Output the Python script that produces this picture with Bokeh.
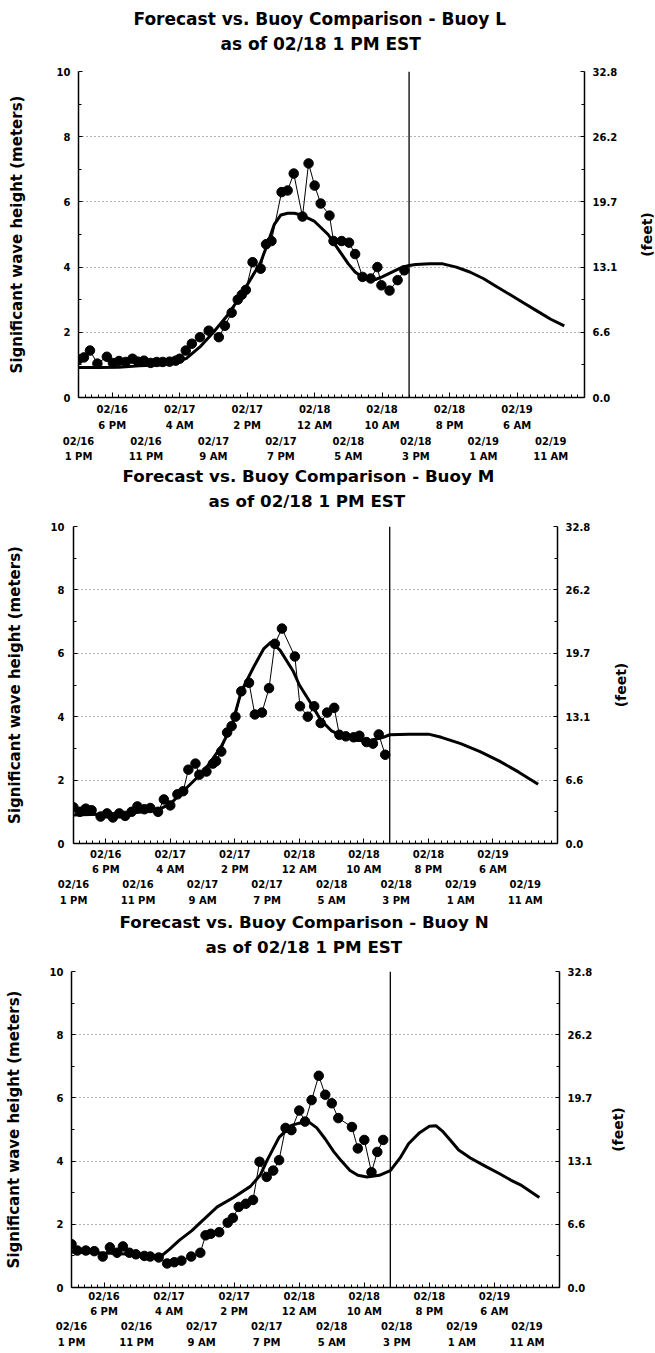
from bokeh.plotting import figure
from bokeh.models import FixedTicker, LinearAxis, Span, Title, Range1d, Grid
from bokeh.layouts import column, row
from bokeh.embed import file_html
from bokeh.resources import INLINE

# ---------------- data (x = hours since 02/16 1 PM EST) ----------------
x_end = 75
now_hour = 49

title_line2 = "as of 02/18 1 PM EST"
y_title = "Significant wave height (meters)"
y2_title = "(feet)"

row1_ticks = [5, 15, 25, 35, 45, 55, 65]
row1_dates = ["02/16", "02/17", "02/17", "02/18", "02/18", "02/18", "02/19"]
row1_times = ["6 PM", "4 AM", "2 PM", "12 AM", "10 AM", "8 PM", "6 AM"]
row2_ticks = [0, 10, 20, 30, 40, 50, 60, 70]
row2_dates = ["02/16", "02/16", "02/17", "02/17", "02/18", "02/18", "02/19", "02/19"]
row2_times = ["1 PM", "11 PM", "9 AM", "7 PM", "5 AM", "3 PM", "1 AM", "11 AM"]

m_ticks = [0, 2, 4, 6, 8, 10]
m_minor = [1, 3, 5, 7, 9]
m_labels = ["0", "2", "4", "6", "8", "10"]
ft_labels = ["0.0", "6.6", "13.1", "19.7", "26.2", "32.8"]

# Buoy L
L_obs_h = [0, 0.8, 1.7, 2.8, 4.2, 5.1, 6.0, 7.0, 8.0, 8.8, 9.7, 10.7, 11.6, 12.5, 13.5, 14.4, 15.0,
           15.9, 16.8, 18.0, 19.3, 20.8, 21.7, 22.7, 23.6, 24.2, 24.8, 25.8, 27.0, 27.8, 28.6,
           30.1, 31.0, 31.9, 33.2, 34.1, 35.0, 35.9, 37.2, 37.8, 39.0, 40.1, 41.0, 42.1, 43.3,
           44.3, 44.9, 46.1, 47.3, 48.3]
L_obs_m = [1.17, 1.23, 1.44, 1.04, 1.25, 1.06, 1.12, 1.09, 1.19, 1.10, 1.13, 1.06, 1.09, 1.09, 1.10, 1.13, 1.19,
           1.44, 1.65, 1.85, 2.05, 1.85, 2.20, 2.60, 3.00, 3.15, 3.30, 4.15, 3.95, 4.70, 4.80,
           6.30, 6.35, 6.87, 5.55, 7.18, 6.50, 5.95, 5.58, 4.80, 4.80, 4.75, 4.40, 3.70, 3.65,
           4.00, 3.44, 3.28, 3.60, 3.90]
L_fc_h = [0, 3, 6, 9, 12, 14, 16, 18, 20, 22, 24, 25, 26, 27, 28, 29, 30, 31, 32, 33, 34, 35, 36, 37, 38,
          39, 40, 41, 42, 43, 44, 45, 46, 47, 48, 49, 50, 52, 54, 56, 58, 60, 62, 64, 66, 68, 70, 72]
L_fc_m = [0.92, 0.92, 0.93, 0.97, 1.00, 1.05, 1.20, 1.55, 2.00, 2.50, 3.10, 3.45, 3.80, 4.15, 4.70, 5.30,
          5.60, 5.65, 5.65, 5.60, 5.50, 5.40, 5.20, 5.00, 4.70, 4.40, 4.10, 3.85, 3.70, 3.62, 3.62, 3.70,
          3.80, 3.90, 4.00, 4.05, 4.08, 4.10, 4.10, 4.00, 3.85, 3.65, 3.40, 3.15, 2.90, 2.65, 2.40, 2.20]

# Buoy M
M_obs_h = [0, 1.0, 1.9, 2.8, 4.2, 5.2, 6.1, 7.1, 8.0, 9.0, 9.9, 11.0, 11.9, 13.1, 14.0, 15.0, 16.1,
           17.0, 17.8, 18.9, 19.5, 20.6, 21.6, 22.1, 22.9, 23.8, 24.5, 25.1, 26.0, 27.2, 28.1, 29.2,
           30.3, 31.2, 32.3, 34.3, 35.1, 36.3, 37.3, 38.3, 39.3, 40.4, 41.2, 42.2, 43.4, 44.3, 45.4,
           46.4, 47.3, 48.3]
M_obs_m = [1.14, 1.00, 1.10, 1.05, 0.85, 0.95, 0.82, 0.95, 0.87, 1.00, 1.17, 1.08, 1.12, 1.00, 1.39, 1.20, 1.55,
           1.65, 2.33, 2.52, 2.17, 2.27, 2.52, 2.60, 2.90, 3.50, 3.70, 4.00, 4.80, 5.07, 4.07, 4.13,
           4.90, 6.30, 6.78, 5.90, 4.33, 4.00, 4.33, 3.80, 4.13, 4.28, 3.43, 3.38, 3.35, 3.40, 3.20,
           3.15, 3.44, 2.80]
M_fc_h = [0, 4, 8, 11, 13, 15, 17, 19, 21, 23, 24.5, 26, 28, 29.5, 30.6, 32, 34, 35, 36.7, 38.3, 40,
          42, 44, 46, 48, 49, 52, 55, 57, 60, 63, 66, 69, 72]
M_fc_m = [0.90, 0.92, 0.95, 1.00, 1.05, 1.25, 1.65, 2.05, 2.50, 3.10, 3.70, 4.80, 5.60, 6.15, 6.35, 6.10,
          5.45, 5.00, 4.45, 3.90, 3.55, 3.35, 3.25, 3.25, 3.35, 3.43, 3.45, 3.45, 3.35, 3.15, 2.90, 2.60,
          2.25, 1.87]

# Buoy N
N_obs_h = [0, 0.9, 2.2, 3.5, 4.8, 5.9, 7.0, 7.9, 8.9, 9.9, 11.2, 12.1, 13.4, 14.7, 15.8, 16.9, 18.4,
           19.8, 20.6, 21.4, 22.7, 24.0, 24.8, 25.7, 26.8, 27.9, 28.9, 30.0, 31.0, 31.9, 32.9, 33.8,
           35.0, 35.9, 36.9, 38.0, 39.0, 40.0, 41.0, 43.1, 44.0, 45.0, 46.1, 47.0, 47.9]
N_obs_m = [1.37, 1.17, 1.17, 1.15, 0.98, 1.27, 1.10, 1.30, 1.10, 1.05, 1.00, 0.98, 0.95, 0.76, 0.80, 0.85, 0.98,
           1.10, 1.65, 1.70, 1.75, 2.05, 2.20, 2.55, 2.65, 2.77, 3.98, 3.50, 3.70, 4.03, 5.05, 4.98,
           5.60, 5.25, 5.93, 6.70, 6.10, 5.83, 5.36, 5.08, 4.40, 4.67, 3.65, 4.29, 4.67]
N_fc_h = [0, 3, 6, 9, 12, 13.7, 15, 16.6, 18.5, 19.8, 22.4, 24.9, 27.5, 29, 30, 31.9, 33.8, 35, 36.4,
          37.7, 39, 40.3, 41.5, 42.8, 44, 45.4, 47.3, 49, 50.5, 51.8, 53.5, 55, 56, 57, 58.2, 59.5,
          61.3, 63.5, 65.8, 67.5, 69, 71.9]
N_fc_m = [1.12, 1.10, 1.08, 1.05, 1.00, 0.98, 1.20, 1.50, 1.80, 2.05, 2.55, 2.85, 3.20, 3.55, 4.00, 4.75,
          5.13, 5.20, 5.25, 5.05, 4.70, 4.30, 4.00, 3.70, 3.55, 3.50, 3.55, 3.70, 4.10, 4.55, 4.90, 5.10,
          5.12, 4.95, 4.67, 4.35, 4.10, 3.85, 3.60, 3.40, 3.25, 2.85]

FONT = "DejaVu Sans"


def blank_axis(ax):
    ax.axis_line_color = None
    ax.major_tick_line_color = None
    ax.minor_tick_line_color = None
    ax.major_tick_in = 0
    ax.major_tick_out = 0
    ax.minor_tick_in = 0
    ax.minor_tick_out = 0


def style_label_axis(ax, standoff):
    blank_axis(ax)
    ax.major_label_standoff = standoff
    ax.major_label_text_font = FONT
    ax.major_label_text_font_style = "bold"
    ax.major_label_text_font_size = "10px"
    ax.major_label_text_color = "black"


def make_panel(buoy, obs_h, obs_m, fc_h, fc_m, g):
    W = g["bl"] + g["fw"] + g["br"]
    H = g["bt"] + g["fh"] + g["bb"]
    p = figure(width=W, height=H, x_range=Range1d(0, x_end), y_range=Range1d(0, 10),
               output_backend="svg", toolbar_location=None, title=None,
               x_axis_location=None, y_axis_location=None,
               min_border_left=g["bl"], min_border_right=g["br"],
               min_border_top=g["bt"], min_border_bottom=g["bb"])
    p.outline_line_color = None
    p.background_fill_color = "white"
    p.border_fill_color = "white"
    for gr in p.grid:
        gr.visible = False
    p.add_layout(Grid(dimension=1, ticker=FixedTicker(ticks=m_ticks[1:]),
                      grid_line_color="#666666", grid_line_dash="1 3", grid_line_width=1))

    # ---- two-line title: spacer, line 2, line 1 (stacked outward from the frame)
    spacer = LinearAxis(ticker=FixedTicker(ticks=[0], minor_ticks=[]))
    spacer.axis_line_color = None
    spacer.major_tick_in = 0
    spacer.major_tick_out = g["gap"]
    spacer.major_tick_line_color = "white"
    spacer.minor_tick_in = 0
    spacer.minor_tick_out = 0
    spacer.minor_tick_line_color = None
    spacer.major_label_text_color = None
    spacer.major_label_standoff = 0
    p.add_layout(spacer, "above")
    p.add_layout(Title(text=title_line2, align="left", offset=g["t2_off"], standoff=0,
                       vertical_align="bottom", text_font=FONT, text_font_size=g["tfs"],
                       text_font_style="bold", text_color="black", text_line_height=1.0), "above")
    p.add_layout(Title(text="Forecast vs. Buoy Comparison - Buoy " + buoy, align="left",
                       offset=g["t1_off"], standoff=g["t1_st"], vertical_align="top",
                       text_font=FONT, text_font_size=g["tfs"], text_font_style="bold",
                       text_color="black", text_line_height=1.0), "above")

    # ---- bottom: tick axis carrying first label line, then three label rows
    s = g["rows"]
    xa = LinearAxis(ticker=FixedTicker(ticks=row1_ticks, minor_ticks=list(range(0, x_end + 1))),
                    major_label_overrides=dict(zip(row1_ticks, row1_dates)))
    style_label_axis(xa, s[0])
    xa.axis_line_color = "black"
    xa.axis_line_width = 1.5
    xa.major_tick_line_color = "black"
    xa.minor_tick_line_color = "black"
    xa.major_tick_in = 5
    xa.minor_tick_in = 3
    p.add_layout(xa, "below")
    rows = [(row1_ticks, row1_times), (row2_ticks, row2_dates), (row2_ticks, row2_times)]
    for (ticks, labels), st in zip(rows, s[1:]):
        ax = LinearAxis(ticker=FixedTicker(ticks=ticks, minor_ticks=[]),
                        major_label_overrides=dict(zip(ticks, labels)))
        style_label_axis(ax, st)
        p.add_layout(ax, "below")

    # ---- y axes
    for side, labels, st_lab in [("left", m_labels, g["yl_ms"]), ("right", ft_labels, 8)]:
        ya = LinearAxis(ticker=FixedTicker(ticks=m_ticks, minor_ticks=m_minor),
                        major_label_overrides=dict(zip(m_ticks, labels)))
        if side == "left":
            ya.axis_label = y_title
            ya.axis_label_standoff = g["yl_as"]
            ya.axis_label_text_font = FONT
            ya.axis_label_text_font_style = "bold"
            ya.axis_label_text_font_size = "15px"
            ya.axis_label_text_color = "black"
            ya.axis_label_text_line_height = 1.0
        ya.major_label_standoff = st_lab
        ya.major_label_text_font = FONT
        ya.major_label_text_font_style = "bold"
        ya.major_label_text_font_size = "10px"
        ya.major_label_text_color = "black"
        ya.major_tick_in = 4
        ya.major_tick_out = 0
        ya.minor_tick_in = 3
        ya.minor_tick_out = 0
        ya.axis_line_width = 1.5
        p.add_layout(ya, side)

    p.add_layout(Span(location=now_hour, dimension="height", line_color="black", line_width=1.3))

    p.line(fc_h, fc_m, line_color="black", line_width=3, line_join="round")
    p.line(obs_h, obs_m, line_color="black", line_width=1)
    p.scatter(obs_h, obs_m, marker="circle", size=9.5, fill_color="black", line_color="black")

    # ---- narrow companion figure holding the "(feet)" title (reads bottom-to-top)
    side = figure(width=g["feet_b"] + 1, height=H, x_range=Range1d(0, 1), y_range=Range1d(0, 10),
                  output_backend="svg", toolbar_location=None, title=None,
                  x_axis_location=None, y_axis_location=None,
                  min_border_left=g["feet_b"], min_border_right=0,
                  min_border_top=g["bt"], min_border_bottom=g["bb"])
    side.outline_line_color = None
    side.background_fill_color = "white"
    side.border_fill_color = "white"
    for gr in side.grid:
        gr.visible = False
    fa = LinearAxis(ticker=FixedTicker(ticks=[], minor_ticks=[]))
    blank_axis(fa)
    fa.major_label_standoff = 0
    fa.axis_label = y2_title
    fa.axis_label_standoff = 0
    fa.axis_label_text_font = FONT
    fa.axis_label_text_font_style = "bold"
    fa.axis_label_text_font_size = "14px"
    fa.axis_label_text_color = "black"
    fa.axis_label_text_line_height = 1.0
    side.add_layout(fa, "left")
    return row(p, side, spacing=0)


g1 = dict(bl=78, fw=508, br=34, bt=71, fh=326, bb=67, tfs="17px",
          gap=18, t1_off=55, t2_off=142, t1_st=1, feet_b=34,
          rows=[6, 2, 2, 1], yl_ms=8, yl_as=28)
g2 = dict(bl=73, fw=486, br=34, bt=62, fh=317, bb=65, tfs="16.7px",
          gap=16, t1_off=49, t2_off=135, t1_st=2, feet_b=35,
          rows=[5, 1, 1, 2], yl_ms=9, yl_as=24)
g3 = dict(bl=71, fw=490, br=34, bt=63, fh=316, bb=63, tfs="16.7px",
          gap=15, t1_off=48, t2_off=134, t1_st=2, feet_b=30,
          rows=[3, 1, 1, 2], yl_ms=8, yl_as=24)

r1 = make_panel("L", L_obs_h, L_obs_m, L_fc_h, L_fc_m, g1)
r2 = make_panel("M", M_obs_h, M_obs_m, M_fc_h, M_fc_m, g2)
r3 = make_panel("N", N_obs_h, N_obs_m, N_fc_h, N_fc_m, g3)

layout = column(r1, r2, r3, spacing=0)
open("out.html", "w").write(file_html(layout, INLINE))
